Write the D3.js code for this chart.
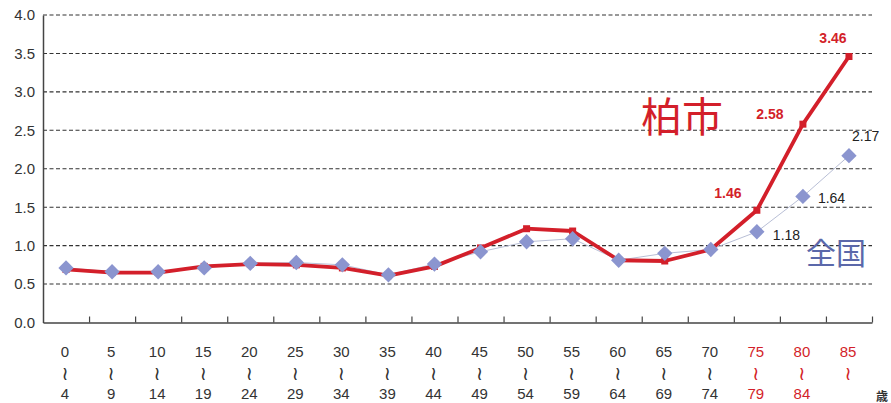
<!DOCTYPE html>
<html>
<head>
<meta charset="utf-8">
<script src="https://cdn.jsdelivr.net/npm/d3@7"></script>
<style>
  body { margin: 0; background: #fff; }
  svg { display: block; font-family: "Liberation Sans", Arial, sans-serif; }
</style>
</head>
<body>
<svg id="chart" width="891" height="403"></svg>
<script>
// age groups (start / end of each band)
var ageFrom = ["0", "5", "10", "15", "20", "25", "30", "35", "40", "45", "50", "55", "60", "65", "70", "75", "80", "85"];
var ageTo = ["4", "9", "14", "19", "24", "29", "34", "39", "44", "49", "54", "59", "64", "69", "74", "79", "84", ""];

// 柏市 (Kashiwa) and 全国 (national)
var kashiwa = [0.69, 0.65, 0.65, 0.73, 0.76, 0.75, 0.71, 0.61, 0.73, 0.97, 1.22, 1.19, 0.81, 0.80, 0.95, 1.46, 2.58, 3.46];
var zenkoku = [0.71, 0.66, 0.66, 0.71, 0.77, 0.78, 0.75, 0.62, 0.76, 0.92, 1.05, 1.09, 0.81, 0.90, 0.95, 1.18, 1.64, 2.17];

var yTicks = [0, 0.5, 1, 1.5, 2, 2.5, 3, 3.5, 4];

var svg = d3.select("#chart"),
  margin = { top: 15, left: 43, bottom: 81, right: 19 },
  width = +svg.attr("width"),
  height = +svg.attr("height");

var x = d3.scaleBand()
  .domain(ageFrom)
  .range([margin.left, width - margin.right])
  .padding(0);

var y = d3.scaleLinear()
  .domain([0, 4])
  .range([height - margin.bottom + 0.5, margin.top]);

var cx = (d) => x(d) + x.bandwidth() / 2;
var red = "#d31f2a";
var blue = "#8b95cf";

// dashed grid
svg.append("g")
  .selectAll("line")
  .data(yTicks.slice(1))
  .join("line")
  .attr("x1", margin.left)
  .attr("x2", width - margin.right)
  .attr("y1", (d) => y(d))
  .attr("y2", (d) => y(d))
  .attr("stroke", "#333")
  .attr("stroke-width", 1.1)
  .attr("stroke-dasharray", "4,2.5");

// y axis
svg.append("g")
  .attr("transform", `translate(${margin.left},0)`)
  .call(d3.axisLeft(y).tickValues(yTicks).tickFormat(d3.format(".1f")).tickSize(0).tickPadding(8))
  .call((g) => g.select(".domain").attr("stroke", "#444").attr("stroke-width", 1.5))
  .call((g) => g.selectAll("text").attr("font-size", 15).attr("fill", "#333"));

// x axis: ticks between bands, pointing up
svg.append("g")
  .attr("transform", `translate(0,${y(0)})`)
  .call(d3.axisBottom(d3.scaleLinear().domain([0, 18]).range(x.range()))
    .tickValues(d3.range(1, 19)).tickSize(-6).tickSizeOuter(0).tickFormat(""))
  .call((g) => g.select(".domain").attr("stroke", "#444").attr("stroke-width", 1.5))
  .call((g) => g.selectAll(".tick line").attr("stroke", "#444").attr("stroke-width", 1.2));

// x labels
var lab = svg.append("g")
  .selectAll("g")
  .data(ageFrom)
  .join("g")
  .attr("transform", (d) => `translate(${cx(d) - 1},0)`)
  .attr("fill", (d, i) => (i >= 15 ? red : "#333"))
  .attr("font-size", 15)
  .attr("text-anchor", "middle");
lab.append("text").attr("y", 357).text((d) => d);
lab.append("text").attr("y", 380).attr("font-family", "DejaVu Sans").attr("font-size", 19).text("≀");
lab.append("text").attr("y", 399).text((d, i) => ageTo[i]);

svg.append("text")
  .attr("x", 876).attr("y", 401)
  .attr("font-size", 12).attr("font-weight", "bold").attr("fill", "#333")
  .attr("font-family", "Noto Sans CJK JP")
  .text("歳");

// national: thin line + diamonds
var line = d3.line().x((d, i) => cx(ageFrom[i])).y((d) => y(d));
svg.append("path")
  .datum(zenkoku)
  .attr("d", line)
  .attr("fill", "none")
  .attr("stroke", "#b9bfd6")
  .attr("stroke-width", 1);

// Kashiwa: thick red line with small squares
svg.append("path")
  .datum(kashiwa)
  .attr("d", line)
  .attr("fill", "none")
  .attr("stroke", red)
  .attr("stroke-width", 3.8)
  .attr("stroke-linejoin", "round");

svg.append("g")
  .selectAll("rect")
  .data(kashiwa)
  .join("rect")
  .attr("x", (d, i) => cx(ageFrom[i]) - 3.5)
  .attr("y", (d) => y(d) - 3.5)
  .attr("width", 7)
  .attr("height", 7)
  .attr("fill", red);

svg.append("g")
  .selectAll("path")
  .data(zenkoku)
  .join("path")
  .attr("transform", (d, i) => `translate(${cx(ageFrom[i])},${y(d)})`)
  .attr("d", d3.symbol(d3.symbolDiamond2, 150))
  .attr("fill", blue);

// value labels for the last three groups
var idx = [15, 16, 17];
var redOff = [[-29, -12], [-33, -5], [-16, -14]];
var blueOff = [[16, 8], [15, 7], [3, -15]];

svg.append("g")
  .selectAll("text")
  .data(idx)
  .join("text")
  .attr("x", (d, k) => cx(ageFrom[d]) + redOff[k][0])
  .attr("y", (d, k) => y(kashiwa[d]) + redOff[k][1])
  .attr("text-anchor", "middle")
  .attr("font-size", 14)
  .attr("font-weight", "bold")
  .attr("fill", red)
  .text((d) => kashiwa[d].toFixed(2));

svg.append("g")
  .selectAll("text")
  .data(idx)
  .join("text")
  .attr("x", (d, k) => cx(ageFrom[d]) + blueOff[k][0])
  .attr("y", (d, k) => y(zenkoku[d]) + blueOff[k][1])
  .attr("font-size", 14)
  .attr("fill", "#222")
  .text((d) => zenkoku[d].toFixed(2));

// series names
svg.append("text")
  .attr("x", 641).attr("y", 132)
  .attr("font-family", "Noto Sans CJK JP")
  .attr("font-size", 41)
  .attr("fill", red)
  .text("柏市");

svg.append("text")
  .attr("x", 806).attr("y", 264)
  .attr("font-family", "Noto Sans CJK JP")
  .attr("font-size", 30)
  .attr("fill", "#5b68aa")
  .text("全国");
</script>
</body>
</html>
